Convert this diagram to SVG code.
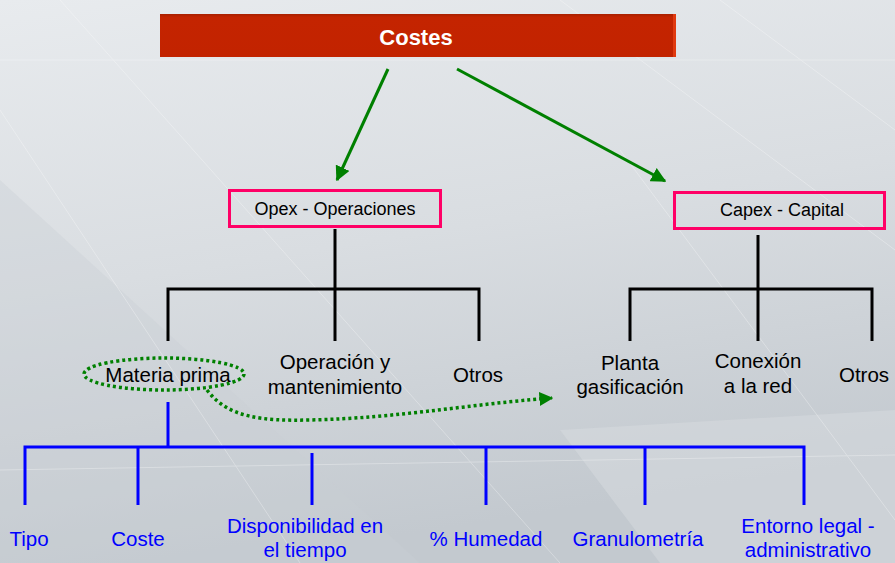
<svg xmlns="http://www.w3.org/2000/svg" width="895" height="563" viewBox="0 0 895 563">
  <defs>
    <linearGradient id="bg" x1="0" y1="0" x2="0.25" y2="1">
      <stop offset="0" stop-color="#E8EBEE"/>
      <stop offset="0.5" stop-color="#D9DDE1"/>
      <stop offset="1" stop-color="#C3C9CF"/>
    </linearGradient>
    <linearGradient id="bar" x1="0" y1="0" x2="0" y2="1">
      <stop offset="0" stop-color="#A82000"/>
      <stop offset="0.08" stop-color="#C42400"/>
      <stop offset="1" stop-color="#C22300"/>
    </linearGradient>
    <marker id="greenHead" viewBox="0 0 10 10" refX="9" refY="5" markerWidth="5" markerHeight="5" orient="auto" markerUnits="strokeWidth">
      <path d="M0,0 L10,5 L0,10 z" fill="#008000"/>
    </marker>
    <marker id="dotHead" viewBox="0 0 10 10" refX="9" refY="5" markerWidth="4" markerHeight="4" orient="auto" markerUnits="strokeWidth">
      <path d="M0,0 L10,5 L0,10 z" fill="#008000"/>
    </marker>
    <style>
      .box { fill: none; stroke: #FF0066; stroke-width: 3; }
      .blk { stroke: #000; stroke-width: 3; fill: none; }
      .blu { stroke: #0000FF; stroke-width: 3; fill: none; }
      .grn { stroke: #008000; stroke-width: 3; fill: none; }
      .dot { stroke: #008000; stroke-width: 3.5; fill: none; stroke-dasharray: 3 3; }
      .t { font-family: "Liberation Sans", Arial, sans-serif; text-anchor: middle; }
      .lbl { font-size: 18px; fill: #000; }
      .mid { font-size: 20.5px; fill: #000; }
      .bl { font-size: 20.5px; fill: #0000FF; }
      .streak { stroke: #FFFFFF; stroke-width: 1; opacity: 0.3; fill: none; }
    </style>
  </defs>

  <!-- backdrop -->
  <rect x="0" y="0" width="895" height="563" fill="url(#bg)"/>
  <path d="M0,180 L420,563 L0,563 z" fill="#C9CED3" opacity="0.35"/>
  <path d="M560,430 L895,410 L895,563 L660,563 z" fill="#D8DCE0" opacity="0.5"/>
  <g class="streak">
    <path d="M60,0 L560,563"/>
    <path d="M0,110 L300,563"/>
    <path d="M560,0 L895,250"/>
    <path d="M720,0 L895,130"/>
    <path d="M620,150 L895,520"/>
    <path d="M0,60 L895,60"/>
    <path d="M0,470 L895,455"/>
  </g>

  <!-- connectors -->
  <g id="connectors">
    <line class="grn" x1="388" y1="69" x2="337" y2="180" marker-end="url(#greenHead)"/>
    <line class="grn" x1="457" y1="69" x2="665" y2="181" marker-end="url(#greenHead)"/>

    <path class="blk" d="M335,229 V289 M168,341 V289 H479 V341 M335,289 V341"/>
    <path class="blk" d="M758,235 V289 M630,341 V289 H872 V341 M758,289 V341"/>

    <path class="blu" d="M168,402 V447 M25,505 V447 H804 V505 M138,447 V505 M486,447 V505 M645,447 V505"/>
    <line class="blu" x1="312" y1="453" x2="312" y2="505"/>

    <path class="dot" d="M207,390 C228,418 262,421 310,420 C400,418 470,404 552,398" marker-end="url(#dotHead)"/>
  </g>

  <!-- nodes -->
  <g id="costes">
    <rect x="160" y="14" width="516" height="43" fill="url(#bar)"/>
    <rect x="673" y="14" width="3" height="43" fill="#E03A10"/>
    <text class="t" x="416" y="45" font-size="22" font-weight="bold" fill="#FFFFFF">Costes</text>
  </g>

  <g id="opex">
    <rect class="box" x="229.5" y="190.5" width="211" height="36"/>
    <text class="t lbl" x="335" y="215">Opex - Operaciones</text>
  </g>

  <g id="capex">
    <rect class="box" x="674.5" y="192.5" width="210" height="36"/>
    <text class="t lbl" x="782" y="216">Capex - Capital</text>
  </g>

  <g id="materia-prima">
    <ellipse class="dot" cx="164" cy="374" rx="80" ry="16"/>
    <text class="t mid" x="168" y="382">Materia prima</text>
  </g>

  <g id="operacion">
    <text class="t mid" x="335" y="369">Operación y</text>
    <text class="t mid" x="335" y="394">mantenimiento</text>
  </g>

  <g id="otros-opex">
    <text class="t mid" x="478" y="382">Otros</text>
  </g>

  <g id="planta">
    <text class="t mid" x="630" y="370">Planta</text>
    <text class="t mid" x="630" y="394">gasificación</text>
  </g>

  <g id="conexion">
    <text class="t mid" x="758" y="368">Conexión</text>
    <text class="t mid" x="758" y="393">a la red</text>
  </g>

  <g id="otros-capex">
    <text class="t mid" x="864" y="382">Otros</text>
  </g>

  <g id="tipo"><text class="t bl" x="29" y="546">Tipo</text></g>
  <g id="coste"><text class="t bl" x="138" y="546">Coste</text></g>
  <g id="disponibilidad">
    <text class="t bl" x="305" y="533">Disponibilidad en</text>
    <text class="t bl" x="305" y="557">el tiempo</text>
  </g>
  <g id="humedad"><text class="t bl" x="486" y="546">% Humedad</text></g>
  <g id="granulometria"><text class="t bl" x="638" y="546">Granulometría</text></g>
  <g id="entorno">
    <text class="t bl" x="808" y="533">Entorno legal -</text>
    <text class="t bl" x="808" y="557">administrativo</text>
  </g>
</svg>
